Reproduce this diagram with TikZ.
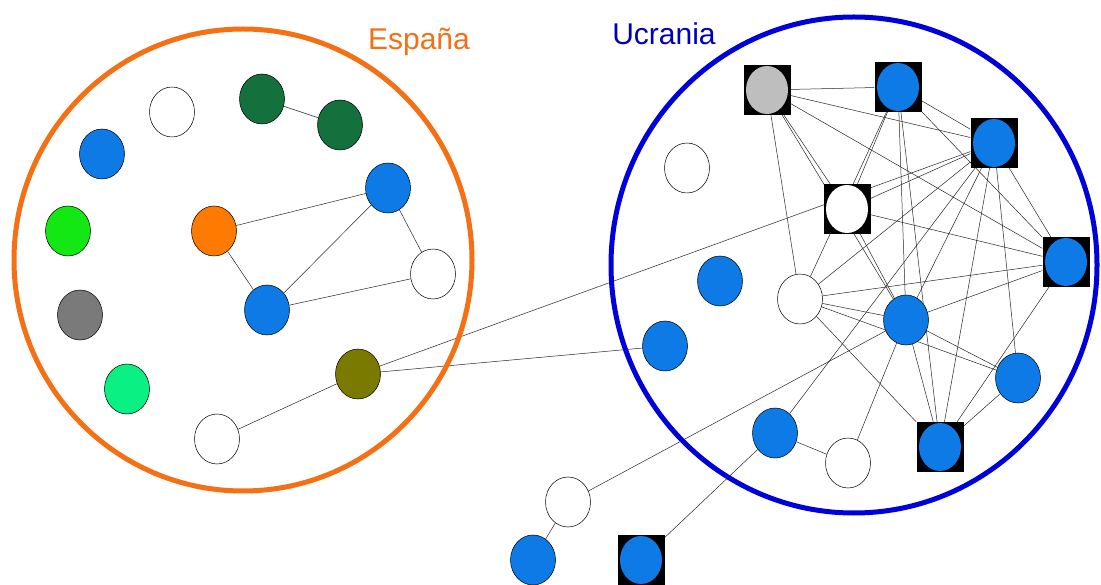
\documentclass[tikz,border=0pt]{standalone}
\usepackage{fontspec}
\usepackage{xcolor}
\usepackage{tikz}
\usetikzlibrary{backgrounds}
\usetikzlibrary{shapes.geometric}
\setmainfont{Liberation Sans}
\definecolor{nblue}{RGB}{14,122,230}
\definecolor{dgreen}{RGB}{20,112,60}
\definecolor{lgreen}{RGB}{20,232,20}
\definecolor{mint}{RGB}{10,240,130}
\definecolor{ngray}{RGB}{122,122,122}
\definecolor{lgray}{RGB}{190,190,190}
\definecolor{norange}{RGB}{255,122,0}
\definecolor{olive}{RGB}{122,122,0}
\definecolor{esring}{RGB}{245,112,20}
\definecolor{uaring}{RGB}{0,0,218}

\begin{document}
\begin{tikzpicture}[x=1pt,y=-1pt,
  nd/.style={ellipse,draw=black,line width=0.5pt,fill=#1,minimum width=45pt,minimum height=50pt,inner sep=0pt},
  sq/.style={rectangle,fill=black,minimum width=47pt,minimum height=50pt,inner sep=0pt,
    path picture={\fill[#1] (path picture bounding box.center) ellipse (21pt and 24pt);}},
  link/.style={draw=black!85,line width=0.5pt},
  lbl/.style={font=\fontsize{30}{36}\selectfont,anchor=base}]
  \useasboundingbox (0,0) rectangle (1101,585);
  % groups
  \draw[esring,line width=5pt] (243,260) ellipse (229 and 231);
  \draw[uaring,line width=5pt] (854,265) ellipse (243 and 248);
  \node[lbl,text=esring] (espana) at (419,50) {España};
  \node[lbl,text=uaring!85!black] (ucrania) at (664,45) {Ucrania};
  % Spain
  \node[nd=white] (e1) at (172,112) {};
  \node[nd=dgreen] (e2) at (262,99) {};
  \node[nd=dgreen] (e3) at (340,125) {};
  \node[nd=nblue] (e4) at (102,154) {};
  \node[nd=nblue] (e5) at (388,188) {};
  \node[nd=lgreen] (e6) at (68,231) {};
  \node[nd=norange] (e7) at (214,231) {};
  \node[nd=white] (e8) at (433,274) {};
  \node[nd=nblue] (e9) at (267,310) {};
  \node[nd=ngray] (e10) at (80,315) {};
  \node[nd=mint] (e11) at (127,389) {};
  \node[nd=olive] (e12) at (358,374) {};
  \node[nd=white] (e13) at (217,439) {};
  % Ukraine
  \node[sq=lgray] (g) at (767,90) {};
  \node[sq=nblue] (b1) at (898,87) {};
  \node[sq=nblue] (b2) at (994,143) {};
  \node[nd=white] (w1) at (687,168) {};
  \node[sq=white] (ws) at (847,209) {};
  \node[sq=nblue] (b3) at (1066,262) {};
  \node[nd=nblue] (c1) at (720,281) {};
  \node[nd=white] (w2) at (800,299) {};
  \node[nd=nblue] (c2) at (906,320) {};
  \node[nd=nblue] (c3) at (665,346) {};
  \node[nd=nblue] (c4) at (1018,378) {};
  \node[nd=nblue] (c5) at (775,433) {};
  \node[nd=white] (w3) at (848,463) {};
  \node[sq=nblue] (b4) at (940,447) {};
  \node[nd=white] (w4) at (568,502) {};
  \node[nd=nblue] (c6) at (533,560) {};
  \node[sq=nblue] (b5) at (641,560) {};
  \begin{scope}[on background layer]
    \fill[white] (0,0) rectangle (1101,585);
    \path[link]
      (e2) edge (e3)
      (e7) edge (e5)
      (e7) edge (e9)
      (e9) edge (e5)
      (e5) edge (e8)
      (e9) edge (e8)
      (e12) edge (e13)
      (e12) edge (c3)
      (e12) edge (b2)
      (g) edge (b1) (g) edge (b2) (g) edge (b3)
      (g) edge (ws) (g) edge (c2) (g) edge (w2)
      (b1) edge (ws) (b1) edge (w2) (b1) edge (c2)
      (b1) edge (b4) (b1) edge (b2) (b1) edge (b3)
      (b2) edge (ws) (b2) edge (w2) (b2) edge (c2) (b2) edge (c5)
      (b2) edge (b4) (b2) edge (c4) (b2) edge (b3)
      (ws) edge (c2) (ws) edge (b3)
      (w2) edge (c2) (w2) edge (b3) (w2) edge (b4) (w2) edge (c4)
      (c2) edge (b3) (c2) edge (c4) (c2) edge (b4)
      (c2) edge (w3) (c2) edge (w4)
      (b3) edge (b4)
      (c4) edge (b4)
      (c5) edge (w3) (c5) edge (b5)
      (w4) edge (c6);
  \end{scope}
\end{tikzpicture}
\end{document}
